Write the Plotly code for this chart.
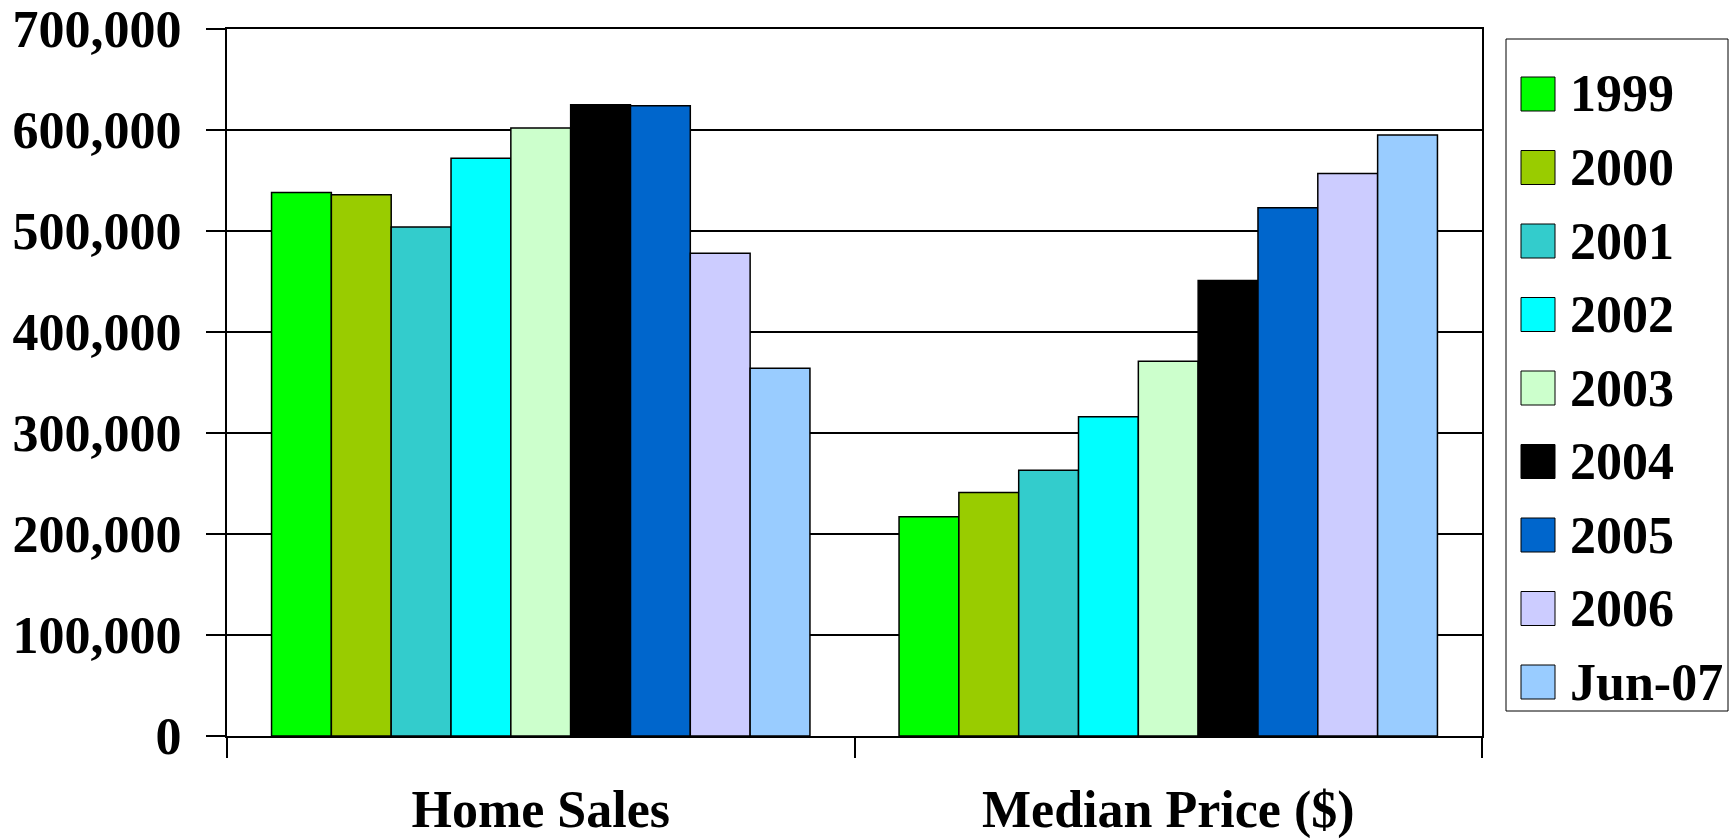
import plotly.graph_objects as go

# Chart data
categories = ["Home Sales", "Median Price ($)"]
periods = ["1999", "2000", "2001", "2002", "2003", "2004", "2005", "2006", "Jun-07"]
home_sales = [538000, 536000, 504000, 572000, 602000, 625000, 624000, 478000, 364000]
median_price = [217000, 241000, 263000, 316000, 371000, 451000, 523000, 557000, 595000]
colors = ["#00FF00", "#99CC00", "#33CCCC", "#00FFFF", "#CCFFCC",
          "#000000", "#0066CC", "#CCCCFF", "#99CCFF"]
y_ticks = [0, 100000, 200000, 300000, 400000, 500000, 600000, 700000]

FONT = "Liberation Serif, Times New Roman, serif"

fig = go.Figure()
for i, p in enumerate(periods):
    fig.add_trace(go.Bar(
        name=p,
        x=categories,
        y=[home_sales[i], median_price[i]],
        marker=dict(color=colors[i], line=dict(color="black", width=1.5)),
        showlegend=False,
    ))

# Plot area in pixels (for placing the legend box outside it)
W, H = 1734, 840
L, R, T, B = 227, 252, 29, 104
pw, ph = W - L - R, H - T - B


def px_x(px):
    return (px - L) / pw


def px_y(py):
    return (H - B - py) / ph


shapes = []
annotations = []
# Legend frame
shapes.append(dict(type="rect", xref="paper", yref="paper",
                   x0=px_x(1506), x1=px_x(1728), y0=px_y(711), y1=px_y(39),
                   line=dict(color="black", width=1), fillcolor="white", layer="above"))
for i, p in enumerate(periods):
    cy = 94 + 73.5 * i
    shapes.append(dict(type="rect", xref="paper", yref="paper",
                       x0=px_x(1521), x1=px_x(1555), y0=px_y(cy + 17), y1=px_y(cy - 17),
                       line=dict(color="black", width=1), fillcolor=colors[i], layer="above"))
    annotations.append(dict(xref="paper", yref="paper", x=px_x(1568), y=px_y(cy),
                            xanchor="left", yanchor="middle", text=p, showarrow=False,
                            font=dict(family=FONT, size=52, color="black", weight="bold")))

fig.update_layout(
    width=W, height=H,
    margin=dict(l=L, r=R, t=T, b=B, pad=0, autoexpand=False),
    paper_bgcolor="white", plot_bgcolor="white",
    barmode="group", bargap=0.142, bargroupgap=0,
    font=dict(family=FONT, color="black"),
    shapes=shapes, annotations=annotations,
    showlegend=False,
)
fig.update_xaxes(
    type="category",
    automargin=False,
    tickson="boundaries",
    ticks="outside", ticklen=20, tickwidth=1.5, tickcolor="black",
    showline=True, linecolor="black", linewidth=2, mirror=True,
    showgrid=False,
    tickfont=dict(family=FONT, size=52, color="black", weight="bold"),
    ticklabelstandoff=27,
)
fig.update_yaxes(
    range=[0, 700000],
    automargin=False,
    tickvals=y_ticks,
    tickformat=",d",
    ticks="outside", ticklen=19, tickwidth=1.5, tickcolor="black",
    showline=True, linecolor="black", linewidth=2, mirror=True,
    showgrid=True, gridcolor="black", gridwidth=1.5,
    zeroline=False,
    tickfont=dict(family=FONT, size=52, color="black", weight="bold"),
    ticklabelstandoff=14,
)

fig.write_html("out.html")
